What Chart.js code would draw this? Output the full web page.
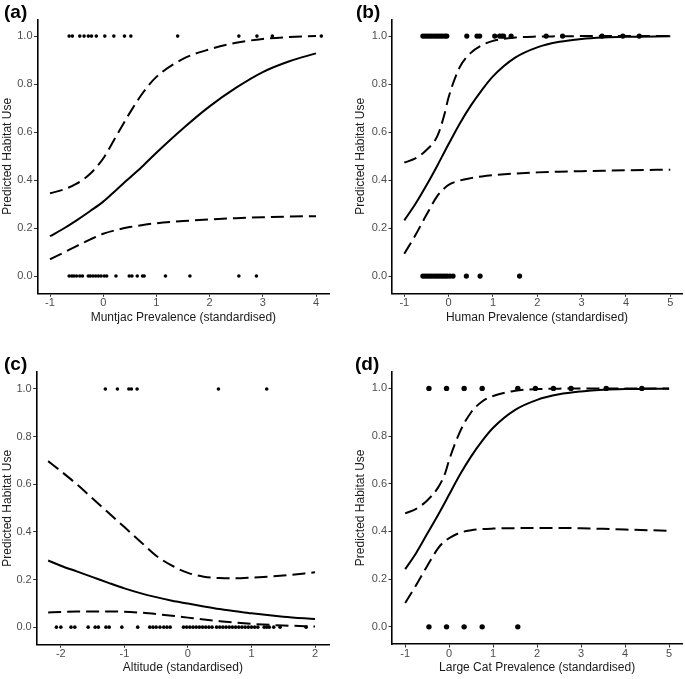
<!DOCTYPE html>
<html>
<head>
<meta charset="utf-8">
<script src="https://cdn.jsdelivr.net/npm/chart.js@4.4.1/dist/chart.umd.min.js"></script>
<style>
  html, body { margin: 0; padding: 0; background: #fff; }
  #wrap { position: relative; width: 685px; height: 679px; overflow: hidden; }
  canvas { position: absolute; }
  .tag { position: absolute; font-family: "Liberation Sans", Arial, sans-serif; font-weight: bold; font-size: 19px; color: #000; line-height: 1; }
</style>
</head>
<body>
<div id="wrap">
  <canvas id="ca" width="342" height="340" style="left:0px;top:0px"></canvas>
  <canvas id="cb" width="343" height="340" style="left:342px;top:0px"></canvas>
  <canvas id="cc" width="342" height="339" style="left:0px;top:340px"></canvas>
  <canvas id="cd" width="343" height="339" style="left:342px;top:340px"></canvas>
  <div class="tag" style="left:4px;top:2px">(a)</div>
  <div class="tag" style="left:356px;top:2px">(b)</div>
  <div class="tag" style="left:4px;top:354px">(c)</div>
  <div class="tag" style="left:355px;top:354px">(d)</div>
</div>
<script>
// ---------- shared ----------
const yTicks = [0, 0.2, 0.4, 0.6, 0.8, 1.0];
const yTitle = "Predicted Habitat Use";

// ---------- panel (a) ----------
const aTitle = "Muntjac Prevalence (standardised)";
const aTicks = [-1, 0, 1, 2, 3, 4];
const aX     = [-1, -0.75, -0.5, -0.25, 0, 0.25, 0.5, 0.75, 1, 1.5, 2, 2.5, 3, 3.5, 4];
const aFit   = [0.166, 0.197, 0.232, 0.27, 0.31, 0.36, 0.41, 0.46, 0.514, 0.615, 0.707, 0.785, 0.85, 0.895, 0.928];
const aUpper = [0.345, 0.36, 0.385, 0.425, 0.49, 0.585, 0.68, 0.765, 0.83, 0.905, 0.945, 0.972, 0.988, 0.996, 1.0];
const aLower = [0.07, 0.097, 0.125, 0.152, 0.176, 0.192, 0.204, 0.213, 0.22, 0.229, 0.236, 0.241, 0.245, 0.248, 0.249];
const aUsed  = [-0.64, -0.58, -0.44, -0.36, -0.28, -0.22, -0.13, 0.03, 0.2, 0.4, 0.52, 1.4, 2.55, 2.89, 3.18, 4.1];
const aUnused = [-0.64, -0.59, -0.55, -0.5, -0.44, -0.39, -0.28, -0.24, -0.19, -0.14, -0.09, -0.04, 0.02, 0.065,
                 0.24, 0.49, 0.54, 0.64, 0.74, 0.77, 1.17, 1.63, 2.55, 2.88];

// ---------- panel (b) ----------
const bTitle = "Human Prevalence (standardised)";
const bTicks = [-1, 0, 1, 2, 3, 4, 5];
const bX     = [-1, -0.75, -0.5, -0.25, -0.1, 0, 0.25, 0.5, 0.75, 1, 1.5, 2, 2.5, 3, 3.5, 4, 5];
const bFit   = [0.232, 0.30, 0.378, 0.462, 0.515, 0.55, 0.635, 0.71, 0.775, 0.832, 0.91, 0.953, 0.976, 0.988, 0.994, 0.997, 0.999];
const bUpper = [0.473, 0.49, 0.525, 0.585, 0.67, 0.745, 0.87, 0.93, 0.962, 0.98, 0.994, 0.998, 0.999, 1.0, 1.0, 1.0, 1.0];
const bLower = [0.093, 0.17, 0.255, 0.335, 0.365, 0.38, 0.398, 0.408, 0.415, 0.42, 0.427, 0.432, 0.435, 0.437, 0.439, 0.441, 0.443];
const bUsed  = [-0.58, -0.53, -0.48, -0.43, -0.38, -0.33, -0.28, -0.23, -0.18, -0.13, -0.08, -0.04,
                0.41, 0.64, 0.7, 1.04, 1.15, 1.2, 1.24, 1.41, 2.2, 2.57, 3.46, 3.93, 4.3];
const bUnused = [-0.58, -0.53, -0.48, -0.43, -0.38, -0.33, -0.28, -0.23, -0.18, -0.13, -0.08, -0.03, 0.03, 0.1,
                 0.4, 0.71, 1.6];

// ---------- panel (c) ----------
const cTitle = "Altitude (standardised)";
const cTicks = [-2, -1, 0, 1, 2];
const cX     = [-2.2, -2, -1.75, -1.5, -1.25, -1, -0.75, -0.5, -0.25, 0, 0.25, 0.5, 0.75, 1, 1.5, 2];
const cFit   = [0.28, 0.258, 0.234, 0.21, 0.186, 0.163, 0.143, 0.126, 0.111, 0.099, 0.087, 0.076, 0.067, 0.058, 0.044, 0.034];
const cUpper = [0.697, 0.655, 0.6, 0.54, 0.48, 0.42, 0.36, 0.3, 0.258, 0.228, 0.212, 0.206, 0.205, 0.208, 0.217, 0.23];
const cLower = [0.062, 0.064, 0.066, 0.066, 0.066, 0.065, 0.061, 0.055, 0.048, 0.04, 0.032, 0.025, 0.019, 0.014, 0.007, 0.003];
const cUsed  = [-1.3, -1.11, -0.93, -0.89, -0.8, 0.48, 1.24];
const cUnused = [-2.07, -2.0, -1.84, -1.78, -1.57, -1.46, -1.41, -1.29, -1.24, -1.04, -0.79, -0.6, -0.55, -0.5,
                 -0.44, -0.38, -0.33, -0.28, -0.07, -0.02, 0.03, 0.08, 0.13, 0.18, 0.23, 0.28, 0.33, 0.38,
                 0.45, 0.5, 0.55, 0.6, 0.65, 0.7, 0.75, 0.8, 0.85, 0.9, 0.95, 1.0, 1.05, 1.1,
                 1.2, 1.24, 1.28, 1.35, 1.45, 1.86];

// ---------- panel (d) ----------
const dTitle = "Large Cat Prevalence (standardised)";
const dTicks = [-1, 0, 1, 2, 3, 4, 5];
const dX     = [-1, -0.75, -0.5, -0.25, -0.1, 0, 0.25, 0.5, 0.75, 1, 1.5, 2, 2.5, 3, 3.5, 4, 5];
const dFit   = [0.242, 0.31, 0.39, 0.47, 0.52, 0.555, 0.64, 0.715, 0.78, 0.835, 0.91, 0.952, 0.975, 0.987, 0.994, 0.997, 0.999];
const dUpper = [0.476, 0.495, 0.53, 0.585, 0.64, 0.7, 0.82, 0.9, 0.945, 0.968, 0.99, 0.997, 0.999, 1.0, 1.0, 1.0, 1.0];
const dLower = [0.1, 0.175, 0.255, 0.33, 0.36, 0.372, 0.395, 0.405, 0.41, 0.412, 0.414, 0.415, 0.415, 0.413, 0.411, 0.408, 0.403];
const dUsed  = [-0.46, -0.06, 0.34, 0.75, 1.56, 1.96, 2.37, 2.77, 3.57, 4.38];
const dUnused = [-0.46, -0.06, 0.34, 0.75, 1.56];

// ---------- builder ----------
const FONT = "'Liberation Sans', Arial, sans-serif";
function pts(xs, ys) { return xs.map((x, i) => ({ x: x, y: ys[i] })); }
function flat(xs, v) { return xs.map(x => ({ x: x, y: v })); }

function panel(id, o) {
  const lineBase = { type: 'line', pointRadius: 0, borderColor: '#000', borderWidth: 2, fill: false,
                     cubicInterpolationMode: 'monotone', order: 2 };
  const dotBase = { type: 'scatter', pointRadius: o.r, pointBackgroundColor: '#000', pointBorderWidth: 0,
                    pointHoverRadius: o.r, showLine: false, order: 1 };
  new Chart(document.getElementById(id), {
    data: {
      datasets: [
        Object.assign({}, lineBase, { label: 'upper', data: pts(o.x, o.upper), borderDash: [13, 6] }),
        Object.assign({}, lineBase, { label: 'lower', data: pts(o.x, o.lower), borderDash: [13, 6] }),
        Object.assign({}, lineBase, { label: 'fit', data: pts(o.x, o.fit) }),
        Object.assign({}, dotBase, { label: 'used', data: flat(o.used, 1) }),
        Object.assign({}, dotBase, { label: 'unused', data: flat(o.unused, 0) })
      ]
    },
    options: {
      responsive: false, animation: false, devicePixelRatio: 1,
      layout: { padding: { left: 0, top: o.top, right: o.right, bottom: 0 } },
      plugins: { legend: { display: false }, tooltip: { enabled: false } },
      scales: {
        x: {
          type: 'linear', min: o.xmin, max: o.xmax,
          border: { display: true, color: '#000', width: 1.6 },
          grid: { drawOnChartArea: false, drawTicks: true, tickLength: 3.5, color: '#333', lineWidth: 1 },
          ticks: { color: '#4d4d4d', font: { family: FONT, size: 11 }, padding: 0,
                   callback: v => String(v) },
          afterBuildTicks: s => { s.ticks = o.ticks.map(v => ({ value: v })); },
          afterFit: s => { s.height = o.xh; },
          title: { display: true, text: o.title, color: '#1a1a1a', font: { family: FONT, size: 12 },
                   padding: { top: 0, bottom: o.xtb } }
        },
        y: {
          type: 'linear', min: -0.072, max: 1.07,
          border: { display: true, color: '#000', width: 1.6 },
          grid: { drawOnChartArea: false, drawTicks: true, tickLength: 3.5, color: '#333', lineWidth: 1 },
          ticks: { color: '#4d4d4d', font: { family: FONT, size: 11 }, padding: 1.5,
                   callback: v => Number(v).toFixed(1) },
          afterBuildTicks: s => { s.ticks = yTicks.map(v => ({ value: v })); },
          afterFit: s => { s.width = o.yw; },
          title: { display: true, text: yTitle, color: '#1a1a1a', font: { family: FONT, size: 12 },
                   padding: { top: o.ytp, bottom: 0 } }
        }
      }
    }
  });
}

panel('ca', { x: aX, fit: aFit, upper: aUpper, lower: aLower, used: aUsed, unused: aUnused, r: 1.8,
  ticks: aTicks, title: aTitle, xmin: -1.235, xmax: 4.25, top: 19.3, right: 12.7, xh: 46.7, xtb: 15.5, yw: 37.5, ytp: 0 });
panel('cb', { x: bX, fit: bFit, upper: bUpper, lower: bLower, used: bUsed, unused: bUnused, r: 2.6,
  ticks: bTicks, title: bTitle, xmin: -1.277, xmax: 5.264, top: 19.3, right: 3, xh: 46.7, xtb: 15.5, yw: 50, ytp: 11.8 });
panel('cc', { x: cX, fit: cFit, upper: cUpper, lower: cLower, used: cUsed, unused: cUnused, r: 1.8,
  ticks: cTicks, title: cTitle, xmin: -2.38, xmax: 2.22, top: 32.3, right: 13, xh: 34.7, xtb: 3.8, yw: 36.7, ytp: 0 });
panel('cd', { x: dX, fit: dFit, upper: dUpper, lower: dLower, used: dUsed, unused: dUnused, r: 2.7,
  ticks: dTicks, title: dTitle, xmin: -1.30, xmax: 5.30, top: 31.7, right: 1.3, xh: 35, xtb: 3.8, yw: 50, ytp: 11.8 });
</script>
</body>
</html>
